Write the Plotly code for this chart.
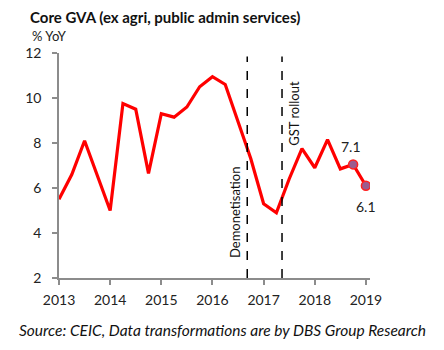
import plotly.graph_objects as go

# Quarterly data, core GVA % YoY
x_years = [2013.0, 2013.25, 2013.5, 2013.75, 2014.0, 2014.25, 2014.5, 2014.75,
           2015.0, 2015.25, 2015.5, 2015.75, 2016.0, 2016.25, 2016.5, 2016.75,
           2017.0, 2017.25, 2017.5, 2017.75, 2018.0, 2018.25, 2018.5, 2018.75, 2019.0]
gva = [5.5, 6.6, 8.1, 6.55, 5.0, 9.75, 9.5, 6.65,
       9.3, 9.15, 9.6, 10.5, 10.95, 10.6, 9.0, 7.3,
       5.3, 4.9, 6.4, 7.75, 6.9, 8.15, 6.85, 7.05, 6.1]
highlight_x = [2018.75, 2019.0]
highlight_y = [7.05, 6.1]
highlight_labels = ["7.1", "6.1"]
event_x = [2016.68, 2017.36]
event_labels = ["Demonetisation", "GST rollout"]
year_ticks = [2013, 2014, 2015, 2016, 2017, 2018, 2019]
y_ticks = [2, 4, 6, 8, 10, 12]

FONT = "Lato, Carlito, Calibri, sans-serif"
AXC = "#8c8c8c"

fig = go.Figure()
fig.add_trace(go.Scatter(x=x_years, y=gva, mode="lines",
                         line=dict(color="#ff0000", width=3.2), hoverinfo="skip"))
fig.add_trace(go.Scatter(x=highlight_x, y=highlight_y, mode="markers",
                         marker=dict(size=9, color="#9b5c8f",
                                     line=dict(color="#ff2020", width=1.5)),
                         hoverinfo="skip"))

for ex in event_x:
    fig.add_shape(type="line", x0=ex, x1=ex, y0=2, y1=11.85, xref="x", yref="y",
                  line=dict(color="black", width=1.5, dash="dash"))

# event labels (rotated)
fig.add_annotation(x=event_x[0], y=4.9, text=event_labels[0], textangle=-90,
                   showarrow=False, xanchor="right", xshift=-2,
                   font=dict(size=13, color="#111111", family=FONT))
fig.add_annotation(x=event_x[1], y=9.3, text=event_labels[1], textangle=-90,
                   showarrow=False, xanchor="left", xshift=2,
                   font=dict(size=13, color="#111111", family=FONT))

# value labels
fig.add_annotation(x=highlight_x[0], y=highlight_y[0], text=highlight_labels[0],
                   showarrow=False, yshift=18, xshift=-2,
                   font=dict(size=14, color="#222222", family=FONT))
fig.add_annotation(x=highlight_x[1], y=highlight_y[1], text=highlight_labels[1],
                   showarrow=False, yshift=-21, xshift=0,
                   font=dict(size=14, color="#222222", family=FONT))

# units
fig.add_annotation(xref="paper", yref="paper", x=(30 - 59) / 311, y=(278 - 36) / 225,
                   text="% YoY", showarrow=False, xanchor="left", yanchor="middle",
                   font=dict(size=13, color="#222222", family=FONT))
# source
fig.add_annotation(xref="paper", yref="paper", x=(223 - 59) / 311, y=(278 - 330) / 225,
                   text="<i>Source: CEIC, Data transformations are by DBS Group Research</i>",
                   showarrow=False, xanchor="center", yanchor="middle",
                   font=dict(size=15.5, color="#111111", family=FONT))

fig.update_layout(
    width=444, height=350,
    margin=dict(l=59, r=74, t=53, b=72),
    paper_bgcolor="white", plot_bgcolor="white",
    showlegend=False,
    title=dict(text="<b>Core GVA (ex agri, public admin services)</b>",
               xref="container", x=30 / 444, xanchor="left",
               yref="container", y=1 - 18 / 350, yanchor="middle",
               font=dict(size=15, color="#111111", family=FONT)),
    font=dict(family=FONT, size=14, color="#222222"),
    xaxis=dict(range=[2013, 2019.08], tickvals=year_ticks,
               ticktext=[str(v) for v in year_ticks],
               showgrid=False, zeroline=False, showline=True, linecolor=AXC,
               linewidth=1.5, ticks="outside", tickcolor=AXC, ticklen=5, tickwidth=1.5,
               ticklabelstandoff=3,
               tickfont=dict(size=14, color="#222222", family=FONT)),
    yaxis=dict(range=[2, 12], tickvals=y_ticks,
               showgrid=False, zeroline=False, showline=True, linecolor=AXC,
               linewidth=1.5, ticks="outside", tickcolor=AXC, ticklen=5, tickwidth=1.5,
               ticklabelstandoff=8,
               tickfont=dict(size=14, color="#222222", family=FONT)),
)

fig.write_html("out.html")
